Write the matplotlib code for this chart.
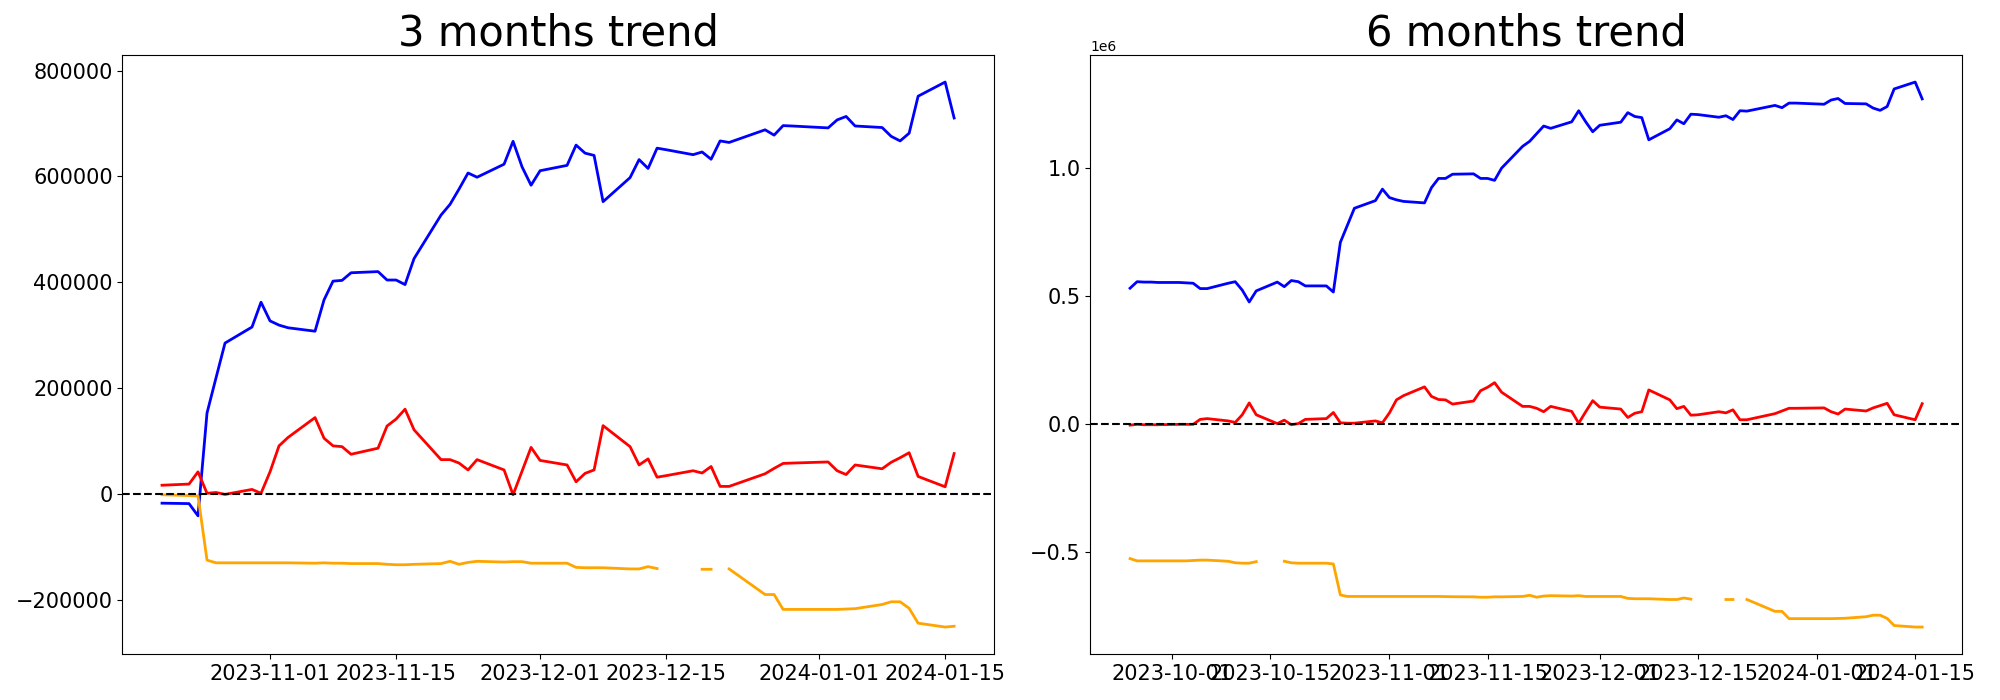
import numpy as np
import pandas as pd
import matplotlib
matplotlib.use("Agg")
import matplotlib.pyplot as plt

nan = np.nan

# trading days shown (Christmas and New Year missing)
holidays = ["2023-12-25", "2024-01-01"]
dates_3m = pd.bdate_range("2023-10-20", "2024-01-16").drop(pd.to_datetime(holidays))
dates_6m = pd.bdate_range("2023-09-25", "2024-01-16").drop(pd.to_datetime(holidays))

# 3 months, values in thousands
blue_3m = [-17.3, -18.1, -41.2, 153.1, 219.5, 285.2, 315.5, 362.4,
           327.1, 319.1, 314.1, 307.6, 366.8, 402.2, 403.6, 418.0,
           420.2, 404.3, 404.3, 395.7, 444.8,
           527.1, 547.3, 576.2, 606.5, 598.5,
           623.1, 666.4, 618.0, 583.4, 610.8,
           620.9, 659.2, 644.0, 639.7, 552.3,
           597.8, 631.8, 615.1, 653.4, 650.5,
           641.1, 646.2, 632.5, 667.1, 664.2,
           688.1, 678.0, 696.0, 695.3,
           691.7, 706.8, 713.3, 695.3,
           692.4, 675.8, 667.1, 681.6, 751.6,
           778.3, 710.4]
red_3m = [16.6, 18.8, 41.9, 1.4, 2.9, -0.7, 8.7, 1.4,
          41.9, 91.0, 106.9, 144.4, 105.4, 91.0, 89.5, 75.1,
          86.6, 128.5, 141.5, 160.3, 121.3,
          65.0, 65.0, 58.5, 45.5, 65.0,
          45.5, -1.4, 43.3, 88.1, 63.5,
          54.9, 23.1, 39.0, 45.5, 129.2,
          89.5, 54.9, 66.4, 31.8, 34.7,
          44.0, 39.7, 52.0, 14.4, 14.4,
          38.3, 48.4, 57.8, 58.5,
          60.6, 44.0, 36.8, 54.9,
          47.7, 59.9, 68.6, 78.0, 33.2,
          13.7, 76.5]
orange_3m = [-1.4, -2.9, -3.6, -124.9, -130.0, -130.0, -130.0, -130.0,
             -130.0, -130.0, -130.0, -130.7, -130.0, -130.7, -130.7, -131.4,
             -131.4, -132.8, -133.6, -133.6, -132.8,
             -131.4, -127.1, -132.8, -129.2, -127.1,
             -128.5, -127.8, -127.8, -130.7, -130.7,
             -130.7, -138.6, -139.3, -139.3, -139.3,
             -141.5, -141.5, -137.2, -140.8, nan,
             nan, -142.2, -142.2, nan, -141.5,
             -189.9, -189.9, -218.0, -218.0,
             -218.0, -218.0, -217.3, -216.6,
             -208.7, -203.6, -203.6, -215.9, -244.0,
             -251.3, -249.8]

# 6 months, values in thousands
blue_6m = [531.3, 556.7, 555.2, 555.2, 553.7,
           553.7, 552.2, 550.7, 529.8, 529.8,
           550.7, 556.7, 523.9, 477.6, 520.9,
           555.2, 537.3, 561.2, 556.7, 540.3,
           540.3, 516.4, 710.4, 776.9, 843.3,
           873.1, 917.9,
           885.0, 876.1, 870.1, 864.2, 923.9, 959.7, 959.7, 976.1,
           977.6, 959.7, 959.7, 952.2, 1000.0,
           1085.0, 1104.5, 1134.3, 1164.2, 1155.2,
           1180.6, 1223.9, 1180.6, 1141.8, 1167.1,
           1179.1, 1216.4, 1201.5, 1197.0, 1110.4,
           1153.7, 1188.0, 1173.1, 1210.4, 1208.9,
           1198.5, 1204.4, 1189.5, 1223.9, 1222.4,
           1244.7, 1235.8, 1253.7, 1253.7,
           1249.2, 1265.6, 1271.6, 1252.2,
           1250.7, 1234.3, 1225.4, 1240.3, 1308.9,
           1335.8, 1270.1]
red_6m = [-3.0, 0.0, -1.5, -1.5, -1.5,
          0.0, 0.0, 0.0, 19.4, 22.4,
          13.4, 7.5, 37.3, 83.6, 37.3,
          3.0, 16.4, -1.5, 3.0, 19.4,
          22.4, 46.3, 6.0, 4.5, 4.5,
          13.4, 6.0,
          44.8, 95.5, 111.9, 146.3, 109.0, 97.0, 95.5, 79.1,
          91.0, 131.3, 144.8, 162.7, 125.4,
          70.1, 70.1, 62.7, 49.3, 70.1,
          50.7, 4.5, 49.3, 92.5, 67.2,
          59.7, 26.9, 43.3, 49.3, 134.3,
          95.5, 61.2, 70.1, 35.8, 37.3,
          49.3, 44.8, 56.7, 17.9, 17.9,
          41.8, 52.2, 62.7, 62.7,
          64.2, 49.3, 40.3, 59.7,
          52.2, 64.2, 73.1, 82.1, 37.3,
          17.9, 80.6]
orange_6m = [-523.9, -532.8, -532.8, -532.8, -532.8,
             -532.8, -532.8, -531.3, -529.8, -529.8,
             -534.3, -540.3, -541.8, -541.8, -535.8,
             nan, -534.3, -540.3, -541.8, -541.8,
             -541.8, -544.8, -665.7, -671.6, -671.6,
             -671.6, -671.6,
             -671.6, -671.6, -671.6, -671.6, -671.6, -671.6, -672.1, -672.6,
             -673.1, -674.6, -674.6, -673.1, -673.1,
             -671.6, -667.1, -674.6, -670.1, -668.6,
             -670.1, -668.6, -671.6, -671.6, -671.6,
             -671.6, -679.1, -680.6, -680.6, -680.6,
             -683.6, -683.6, -677.6, -682.1, nan,
             nan, -683.6, -683.6, nan, -683.6,
             -729.8, -729.8, -758.2, -758.2,
             -758.2, -758.2, -757.5, -756.7,
             -750.7, -744.8, -744.8, -757.5, -785.1,
             -791.0, -791.0]

fig, axes = plt.subplots(1, 2, figsize=(20, 7), dpi=100)
fig.subplots_adjust(left=0.0612, right=0.9809, bottom=0.0653, top=0.9217, wspace=0.111)

panels = [
    (axes[0], "3 months trend", dates_3m, blue_3m, red_3m, orange_3m),
    (axes[1], "6 months trend", dates_6m, blue_6m, red_6m, orange_6m),
]
for ax, titre, dates, blue, red, orange in panels:
    ax.plot(dates, np.array(blue) * 1000, color="blue", linewidth=2)
    ax.plot(dates, np.array(red) * 1000, color="red", linewidth=2)
    ax.plot(dates, np.array(orange) * 1000, color="orange", linewidth=2)
    ax.axhline(0, color="black", linestyle="--", linewidth=1.5)
    ax.set_title(titre, fontsize=30)
    ax.tick_params(labelsize=15)
    ax.yaxis.get_offset_text().set_fontsize(10)

plt.savefig("out.png", dpi=100)
